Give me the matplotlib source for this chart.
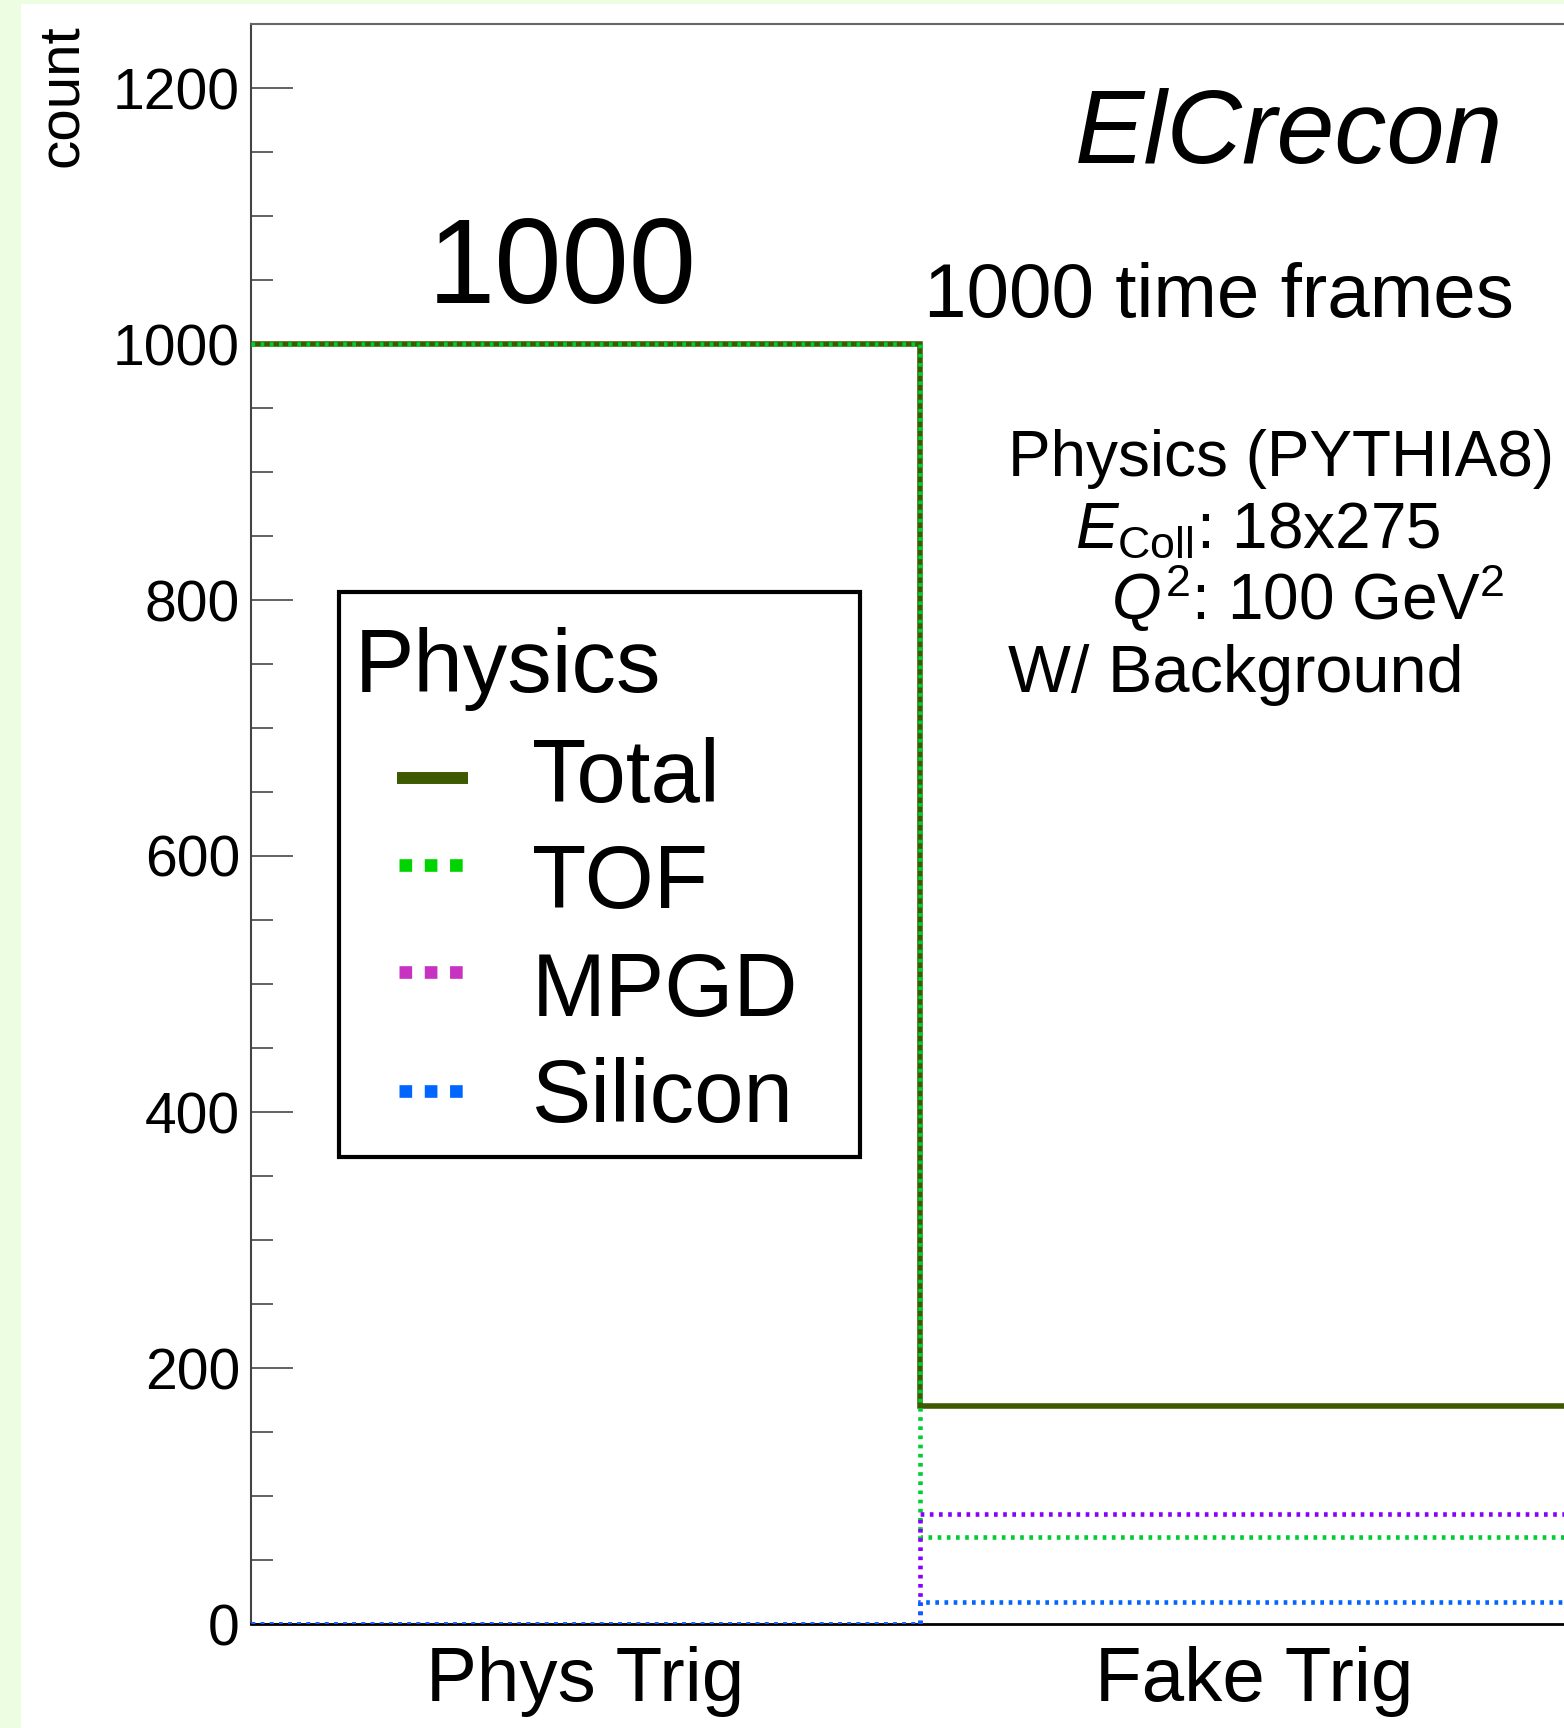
import matplotlib
matplotlib.use('Agg')
import matplotlib.pyplot as plt
from matplotlib.lines import Line2D
from matplotlib.patches import Rectangle
from matplotlib.ticker import MultipleLocator

plt.rcParams['font.family'] = ['Liberation Sans', 'DejaVu Sans']
plt.rcParams['mathtext.fontset'] = 'custom'
plt.rcParams['mathtext.rm'] = 'Liberation Sans'
plt.rcParams['mathtext.it'] = 'Liberation Sans:italic'

# data
categories = ['Phys Trig', 'Fake Trig']
total = [1000, 170]
tof = [1000, 68]
mpgd = [0, 86]
silicon = [0, 17]
edges = [0, 1, 2]

series_names = ['Total', 'TOF', 'MPGD', 'Silicon']
line_colors = ['#3d5a00', '#00cc33', '#8a00ff', '#0066ff']
legend_colors = ['#3d5a00', '#00d400', '#c832c0', '#0066ff']

W, H = 1564, 1728


def fx(px):
    return px / W


def fy(py):
    return 1 - py / H


fig = plt.figure(figsize=(W / 100, H / 100), dpi=100, facecolor='#edfde2')
fig.patches.append(Rectangle((fx(21), 0), 1 - fx(21), fy(4), transform=fig.transFigure,
                             facecolor='white', edgecolor='none', zorder=-10))

# axes extends beyond the right edge (cropped like the original)
ax = fig.add_axes([fx(251), fy(1624), (1589 - 251) / W, (1624 - 24) / H])

dots = (0, (0.8, 1.2))
ax.stairs(total, edges, baseline=None, color=line_colors[0], lw=4.0, zorder=3)
ax.stairs(tof, edges, baseline=None, color=line_colors[1], lw=3.3, ls=dots, zorder=4)
ax.stairs(mpgd, edges, baseline=None, color=line_colors[2], lw=3.3, ls=dots, zorder=5)
ax.stairs(silicon, edges, baseline=None, color=line_colors[3], lw=3.3, ls=dots, zorder=6)

ax.set_xlim(0, 2)
ax.set_ylim(0, 1250)
ax.yaxis.set_major_locator(MultipleLocator(200))
ax.yaxis.set_minor_locator(MultipleLocator(50))
ax.tick_params(axis='y', which='major', direction='in', length=30, width=1.3,
               color='#555555', labelsize=41, pad=8)
ax.tick_params(axis='y', which='minor', direction='in', length=16, width=1.3, color='#555555')
ax.set_xticks([0.5, 1.5], categories)
ax.tick_params(axis='x', length=0, labelsize=55, pad=16)

ax.spines['right'].set_visible(False)
ax.spines['top'].set_color('#666666')
ax.spines['top'].set_linewidth(1.5)
ax.spines['left'].set_color('#444444')
ax.spines['left'].set_linewidth(1.5)
ax.spines['bottom'].set_color('black')
ax.spines['bottom'].set_linewidth(2)

fig.text(fx(62), fy(24), 'count', rotation=90, ha='center', va='top', fontsize=42)

# bin content label
ax.text(0.465, 1032, f'{total[0]}', ha='center', va='baseline', fontsize=87)

fig.text(fx(1075), fy(163), 'ElCrecon', fontsize=75, style='italic', va='baseline')
fig.text(fx(924), fy(317), '1000 time frames', fontsize=55, va='baseline')
fig.text(fx(1008), fy(476), 'Physics (PYTHIA8)', fontsize=46, va='baseline')
fig.text(fx(1075), fy(548), r'$E_{\mathrm{Coll}}$: 18x275', fontsize=46, va='baseline')
fig.text(fx(1111), fy(620), r'$Q^{2}$: 100 GeV$^{2}$', fontsize=46, va='baseline')
fig.text(fx(1008), fy(692), 'W/ Background', fontsize=48, va='baseline')

# legend box drawn by hand
fig.patches.append(Rectangle((fx(339), fy(1157)), fx(860) - fx(339), fy(592) - fy(1157),
                             transform=fig.transFigure, facecolor='white',
                             edgecolor='black', lw=3, zorder=5))
fig.text(fx(355), fy(692), 'Physics', fontsize=64, va='baseline', zorder=6)
row_text_y = [802, 908, 1016, 1122]
row_handle_y = [778, 865, 972, 1091]
for i, name in enumerate(series_names):
    if i == 0:
        h = Line2D([fx(397), fx(468)], [fy(row_handle_y[i])] * 2, color=legend_colors[i],
                   lw=8.6, solid_capstyle='butt', transform=fig.transFigure, zorder=6)
    else:
        h = Line2D([fx(399), fx(467)], [fy(row_handle_y[i])] * 2, color=legend_colors[i],
                   lw=9.1, ls=(0, (1, 1)), transform=fig.transFigure, zorder=6)
    fig.lines.append(h)
    fig.text(fx(532), fy(row_text_y[i]), name, fontsize=64, va='baseline', zorder=6)

fig.savefig('out.png', dpi=100, facecolor=fig.get_facecolor())
